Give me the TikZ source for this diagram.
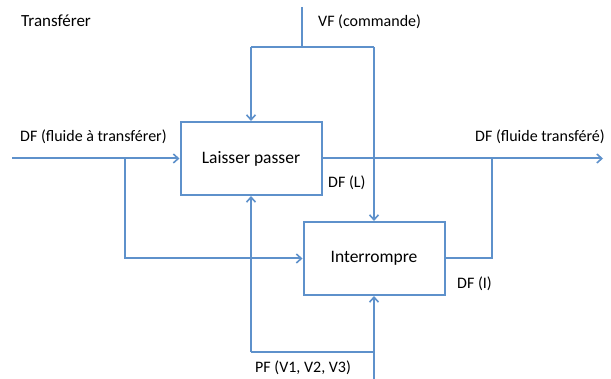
\documentclass[tikz,border=0pt]{standalone}
\usepackage{fontspec}
\setmainfont{Carlito}
\usetikzlibrary{arrows.meta}
\definecolor{ln}{RGB}{94,145,203}
\tikzset{
  flow/.style={draw=ln, line width=2pt},
  tip/.style={flow, -{Straight Barb[length=5pt,width=9pt,line width=1.6pt]}},
  box/.style={draw=ln, line width=2pt, fill=white, minimum width=141pt, minimum height=73pt, font=\fontsize{17.5}{20}\selectfont, inner sep=0pt},
  lbl/.style={anchor=base west, font=\fontsize{16}{19}\selectfont, inner sep=0pt}
}
\begin{document}
\begin{tikzpicture}[x=1pt,y=-1pt]
\useasboundingbox (0,0) rectangle (611,379);
% boxes
\node[box] (L) at (251,158.5) {Laisser passer};
\node[box] (I) at (374,258.5) {Interrompre};
% coordinates
\coordinate (vtop) at (302,7);
\coordinate (vj) at (302,47);
\coordinate (vl) at (251,47);
\coordinate (vr) at (374,47);
\coordinate (in) at (12,158.5);
\coordinate (b1) at (125,158.5);
\coordinate (out) at (603,158.5);
\coordinate (j2) at (492,158.5);
\coordinate (pb) at (374,379);
\coordinate (pj) at (374,352);
\coordinate (pl) at (251,352);
% VF
\draw[flow] (vtop) -- (vj);
\draw[flow] (vl) -- (vr);
\draw[tip] (vl) -- (L.north);
\draw[tip] (vr) -- (I.north);
% input
\draw[tip] (in) -- (L.west);
\draw[tip] (b1) |- (I.west);
% output
\draw[tip] (L.east) -- (out);
\draw[flow] (I.east) -| (j2);
% PF
\draw[tip] (pb) -- (I.south);
\draw[flow] (pj) -- (pl);
\draw[tip] (pl) -- (L.south);
% labels
\node[lbl, font=\fontsize{17}{20}\selectfont] (t0) at (21,27) {Transférer};
\node[lbl] (t1) at (318,27) {VF (commande)};
\node[lbl] (t2) at (20,142) {DF (fluide à transférer)};
\node[lbl] (t3) at (475,142) {DF (fluide transféré)};
\node[lbl] (t4) at (328,188) {DF (L)};
\node[lbl] (t5) at (457,289) {DF (I)};
\node[lbl] (t6) at (255,373) {PF (V1, V2, V3)};
\end{tikzpicture}
\end{document}
